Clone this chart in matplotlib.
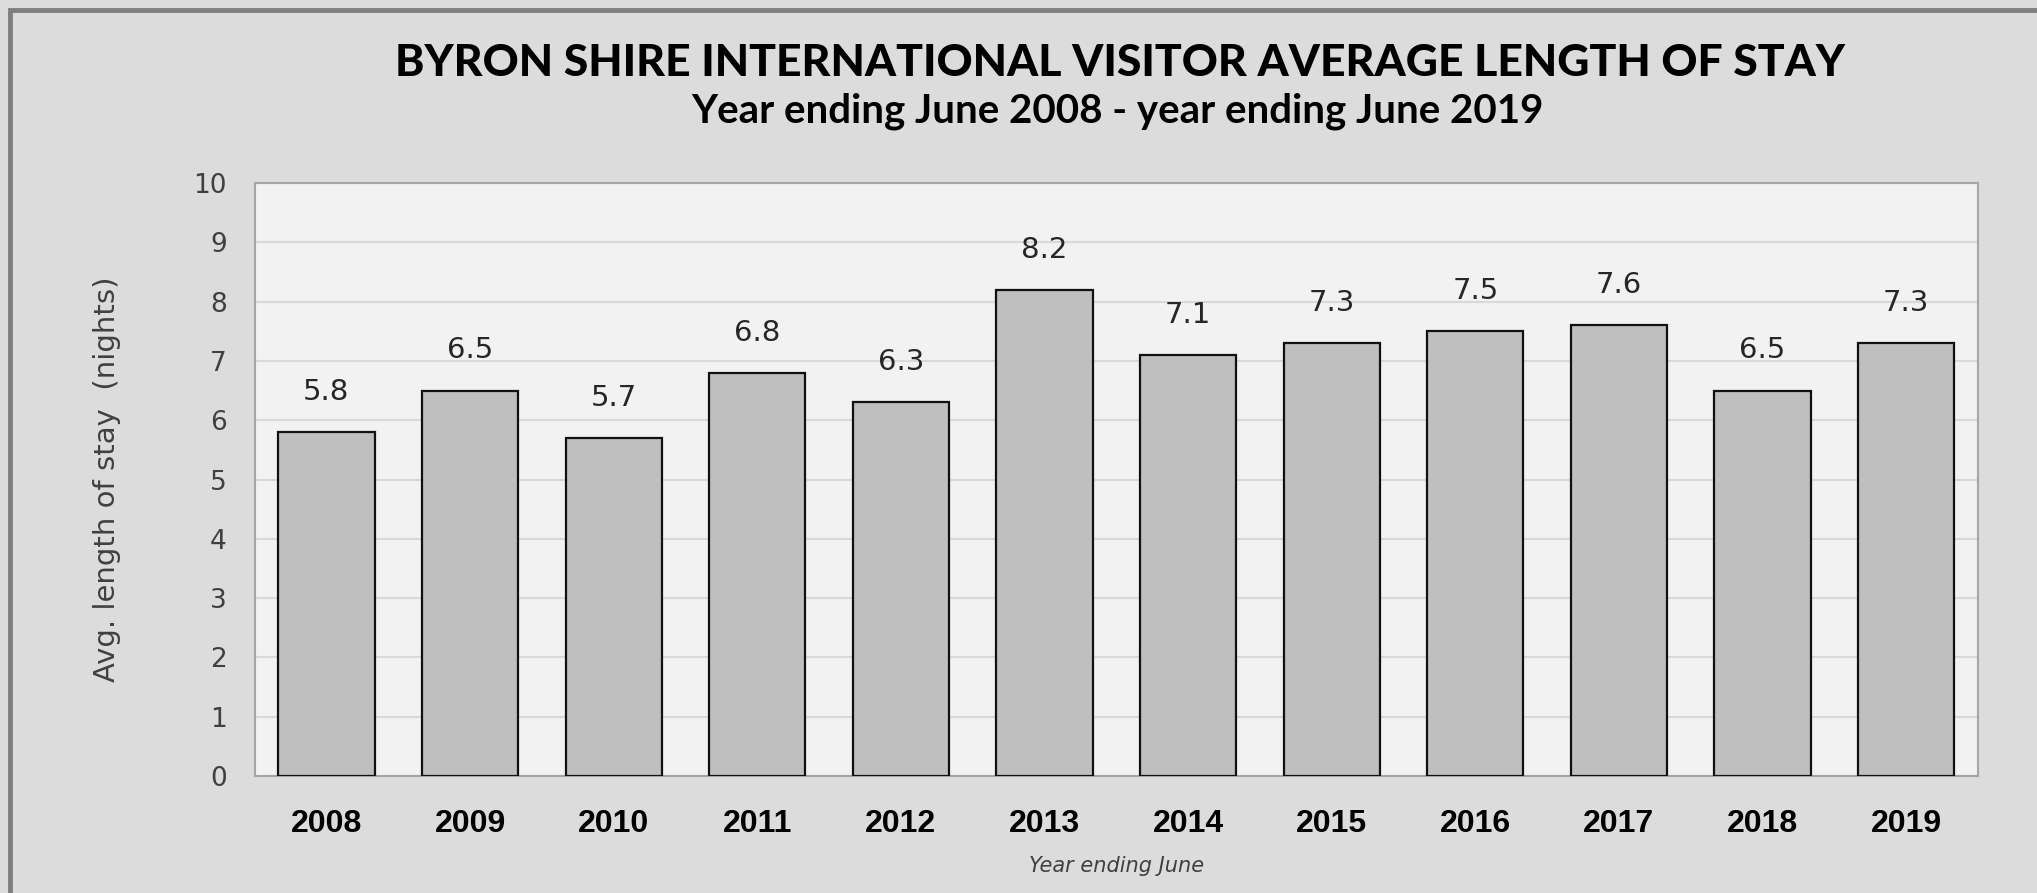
import matplotlib
matplotlib.use("Agg")
import matplotlib.pyplot as plt
from matplotlib.patches import Rectangle

years = ["2008", "2009", "2010", "2011", "2012", "2013",
         "2014", "2015", "2016", "2017", "2018", "2019"]
avg_stay = [5.8, 6.5, 5.7, 6.8, 6.3, 8.2, 7.1, 7.3, 7.5, 7.6, 6.5, 7.3]
y_ticks = [0, 1, 2, 3, 4, 5, 6, 7, 8, 9, 10]

title = "BYRON SHIRE INTERNATIONAL VISITOR AVERAGE LENGTH OF STAY"
subtitle = "Year ending June 2008 - year ending June 2019"

fig = plt.figure(figsize=(20.37, 8.93), dpi=100)
fig.patch.set_facecolor("#dcdcdc")

# outer frame, only top and left edges fall inside the image
fig.patches.append(Rectangle((10 / 2037, -0.1), 1.2, 1 - 10 / 893 + 0.1,
                             transform=fig.transFigure, fill=False,
                             edgecolor="#7f7f7f", linewidth=3.5))

ax = fig.add_axes([0.125, 0.131, 0.846, 0.664])
ax.set_facecolor("#f2f2f2")

x = range(len(years))
ax.bar(x, avg_stay, width=0.67, color="#bfbfbf", edgecolor="#111111",
       linewidth=1.6, zorder=3)

for xi, v in zip(x, avg_stay):
    ax.annotate(f"{v}", (xi, v), xytext=(0, 29), textcoords="offset points",
                ha="center", va="center", fontsize=21, color="#262626",
                family=["Liberation Sans Narrow", "DejaVu Sans"])

ax.set_xlim(-0.5, len(years) - 0.5)
ax.set_ylim(0, 10)
ax.set_yticks(y_ticks)
ax.set_yticklabels([str(t) for t in y_ticks], fontsize=19, color="#404040",
                   family="DejaVu Sans")
ax.set_xticks(list(x))
ax.set_xticklabels(years, fontsize=23, fontweight="bold", color="black",
                   family="Liberation Sans")
ax.tick_params(axis="both", length=0)
ax.tick_params(axis="y", pad=20)
ax.tick_params(axis="x", pad=24)

ax.yaxis.grid(True, color="#d9d9d9", linewidth=1.5, zorder=0)
ax.set_axisbelow(True)
for s in ax.spines.values():
    s.set_color("#a6a6a6")
    s.set_linewidth(1.5)

ax.set_ylabel("Avg. length of stay  (nights)", fontsize=21, color="#404040",
              labelpad=52)
ax.set_xlabel("Year ending June", fontsize=15, style="italic", color="#404040",
              labelpad=12)

fig.text(1120 / 2037, 1 - 63 / 893, title, ha="center", va="center",
         fontsize=32, fontweight="black", family="Lato")
fig.text(1117 / 2037, 1 - 111 / 893, subtitle, ha="center", va="center",
         fontsize=29, fontweight="bold", family="Lato")

fig.savefig("out.png", dpi=100, facecolor=fig.get_facecolor())
